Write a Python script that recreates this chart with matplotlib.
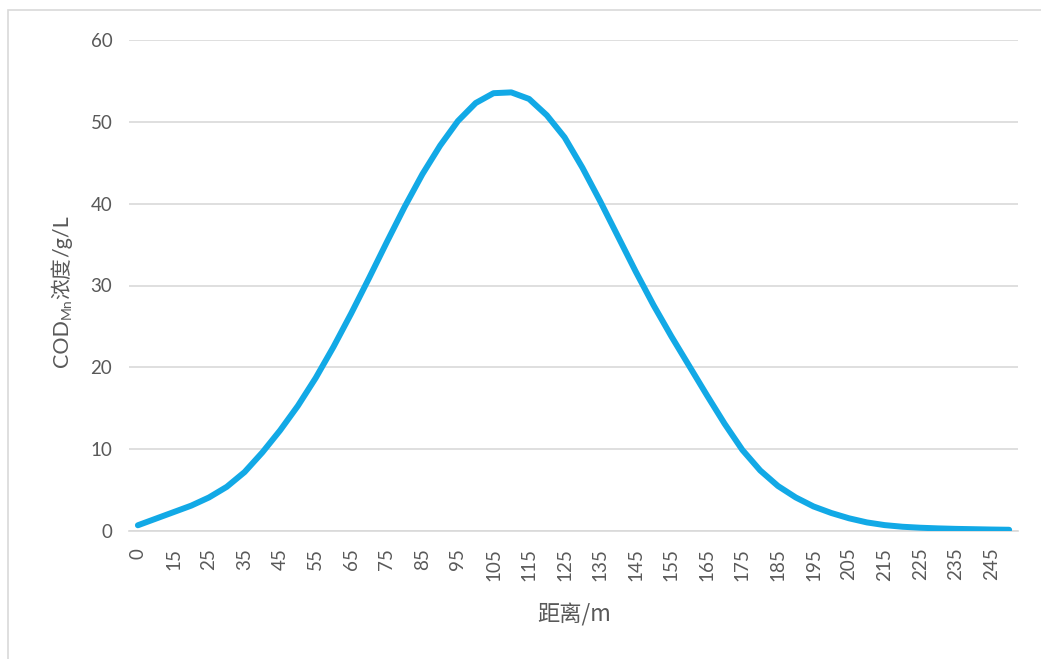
import matplotlib
matplotlib.use("Agg")
import matplotlib.pyplot as plt
from matplotlib.patches import Rectangle

# distance categories (m) and COD_Mn concentration (g/L)
distance = [0] + list(range(10, 255, 5))
conc = [0.7, 1.5, 2.3, 3.1, 4.1, 5.4, 7.2, 9.6, 12.3, 15.3,
        18.7, 22.5, 26.6, 30.9, 35.3, 39.6, 43.6, 47.1, 50.1, 52.3,
        53.5, 53.6, 52.8, 50.8, 48.1, 44.4, 40.3, 36.0, 31.7, 27.6,
        23.8, 20.2, 16.6, 13.1, 9.9, 7.4, 5.5, 4.1, 3.0, 2.2,
        1.55, 1.05, 0.72, 0.52, 0.40, 0.32, 0.26, 0.22, 0.18, 0.15]
y_ticks = [0, 10, 20, 30, 40, 50, 60]

W, H = 1041, 659
txt_color = '#595959'
grid_color = '#d9d9d9'
fams = ['Lato', 'Noto Sans CJK SC', 'DejaVu Sans']
plt.rcParams['font.family'] = fams

fig = plt.figure(figsize=(W / 100, H / 100), dpi=100)
ax = fig.add_axes([129 / W, 1 - 531 / H, (1018 - 129) / W, (531 - 40) / H])

idx = list(range(len(distance)))
ax.plot(idx, conc, color='#12a9e6', lw=4.3, solid_joinstyle='round',
        solid_capstyle='round', zorder=3)

ax.set_xlim(-0.5, len(distance) - 0.5)
ax.set_ylim(0, 60)
ax.set_yticks(y_ticks)
ax.set_yticklabels([str(v) for v in y_ticks])
ax.set_xticks(idx[::2])
ax.set_xticklabels([str(d) for d in distance[::2]], rotation=90)

ax.grid(axis='y', color=grid_color, lw=1.2)
ax.set_axisbelow(True)
for s in ['top', 'right', 'left']:
    ax.spines[s].set_visible(False)
ax.spines['bottom'].set_color(grid_color)
ax.spines['bottom'].set_linewidth(1.2)
ax.tick_params(axis='both', length=0, labelsize=13.5, labelcolor=txt_color)
ax.tick_params(axis='y', pad=12)
ax.tick_params(axis='x', pad=12)

# x axis title
fig.text(574 / W, 1 - 615 / H, '距离/m', ha='center', va='center',
         fontsize=16, color=txt_color, family=['Noto Sans CJK SC'])

# y axis title built from pieces, so the subscript can be drawn
fig.canvas.draw()
r = fig.canvas.get_renderer()
parts = [('COD', 15.5, 0), ('Mn', 10, 3), ('浓度', 15, 0), ('/g/L', 15.5, 0)]
ypos = 367
base_x = 68
for t, fs, dx in parts:
    tx = fig.text((base_x + dx) / W, 1 - ypos / H, t, rotation=90,
                  rotation_mode='anchor', ha='left', va='baseline',
                  fontsize=fs, color=txt_color, family=fams)
    ext = tx.get_window_extent(renderer=r)
    ypos -= ext.height

# outer chart border
fig.add_artist(Rectangle((8 / W, -0.01), 1.1, 1 - 10 / H + 0.01,
                         transform=fig.transFigure, fill=False,
                         ec=grid_color, lw=1.2))

fig.savefig('out.png', dpi=100)
